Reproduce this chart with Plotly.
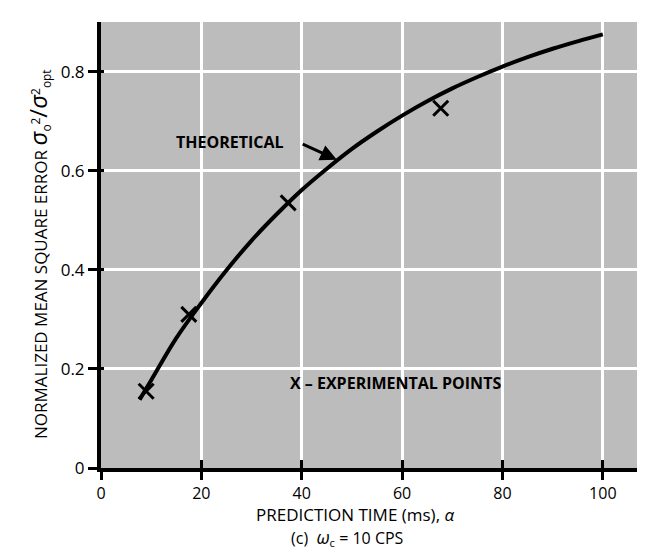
import plotly.graph_objects as go

# Theoretical curve
theory_x = [7.7, 10, 15, 20, 25, 30, 35, 40, 45, 50, 55, 60, 65, 70, 75, 80, 85, 90, 95, 100]
theory_y = [0.138, 0.177, 0.262, 0.333, 0.399, 0.459, 0.512, 0.561, 0.604, 0.644, 0.679,
            0.711, 0.740, 0.766, 0.789, 0.810, 0.829, 0.846, 0.861, 0.875]

# Experimental points
exp_x = [9, 17.5, 37.3, 67.7]
exp_y = [0.155, 0.31, 0.535, 0.726]

x_ticks = [0, 20, 40, 60, 80, 100]
x_tick_labels = ["0", "20", "40", "60", "80", "100"]
y_ticks = [0, 0.2, 0.4, 0.6, 0.8]
y_tick_labels = ["0", "0.2", "0.4", "0.6", "0.8"]

FONT = "Open Sans"
BG = "#bcbcbc"

fig = go.Figure()
fig.add_trace(go.Scatter(x=theory_x, y=theory_y, mode="lines",
                         line=dict(color="black", width=4, shape="spline"),
                         hoverinfo="skip", showlegend=False))
fig.add_trace(go.Scatter(x=exp_x, y=exp_y, mode="markers",
                         marker=dict(symbol="x-thin", size=15,
                                     line=dict(color="black", width=3)),
                         hoverinfo="skip", showlegend=False))
# invisible trace to carry the overlay axes (inner half of the crossing ticks)
fig.add_trace(go.Scatter(x=[None], y=[None], xaxis="x2", yaxis="y2",
                         showlegend=False, hoverinfo="skip"))

fig.update_layout(
    width=645, height=552,
    margin=dict(l=93, r=0, t=14, b=92),
    paper_bgcolor="white", plot_bgcolor=BG,
    font=dict(family=FONT, color="black", size=16),
    xaxis=dict(range=[0, 110], tickvals=x_ticks, ticktext=x_tick_labels,
               showgrid=True, gridcolor="white", gridwidth=3,
               showline=True, linecolor="black", linewidth=4,
               ticks="outside", ticklen=8, tickwidth=3, tickcolor="black",
               zeroline=False, tickfont=dict(size=16)),
    yaxis=dict(range=[0, 0.9], tickvals=y_ticks, ticktext=y_tick_labels,
               showgrid=True, gridcolor="white", gridwidth=3,
               showline=True, linecolor="black", linewidth=4,
               ticks="outside", ticklen=9, tickwidth=3, tickcolor="black",
               zeroline=False, tickfont=dict(size=17)),
    xaxis2=dict(overlaying="x", matches="x", anchor="y2", range=[0, 110],
                tickvals=x_ticks, ticks="inside", ticklen=8, tickwidth=3,
                tickcolor="black", showticklabels=False, showgrid=False,
                showline=False, zeroline=False),
    yaxis2=dict(overlaying="y", matches="y", anchor="x2", range=[0, 0.9],
                tickvals=y_ticks, ticks="inside", ticklen=3, tickwidth=3,
                tickcolor="black", showticklabels=False, showgrid=False,
                showline=False, zeroline=False),
)

SIG = "<span style='font-size:24px'><i>σ</i></span>"
ytitle = ("NORMALIZED MEAN SQUARE ERROR " + SIG + "<sub>o</sub><sup>2</sup>"
          "<span style='font-size:24px'>/</span>" + SIG + "<sup>2</sup><sub>opt</sub>")

annotations = [
    dict(text=ytitle, xref="paper", yref="paper", x=-0.114, y=0.48, textangle=-90,
         showarrow=False, xanchor="center", yanchor="middle", font=dict(size=17)),
    dict(text="PREDICTION TIME (ms), <i>α</i>", xref="x", yref="paper", x=50.7, y=-0.104,
         showarrow=False, xanchor="center", yanchor="middle", font=dict(size=17)),
    dict(text="(c)  <span style='font-size:18px'><i>ω</i></span><sub>c</sub> = 10 CPS",
         xref="x", yref="paper", x=49.2, y=-0.156,
         showarrow=False, xanchor="center", yanchor="middle", font=dict(size=16)),
    dict(text="<b>THEORETICAL</b>", xref="x", yref="y", x=25.7, y=0.657,
         showarrow=False, xanchor="center", yanchor="middle", font=dict(size=16)),
    dict(text="", xref="x", yref="y", x=47.0, y=0.622, ax=39.9, ay=0.655,
         axref="x", ayref="y", showarrow=True, arrowhead=2, arrowsize=1.1,
         arrowwidth=3, arrowcolor="black"),
    dict(text="<b>X – EXPERIMENTAL POINTS</b>", xref="x", yref="y", x=58.6, y=0.171,
         showarrow=False, xanchor="center", yanchor="middle", font=dict(size=16)),
]
fig.update_layout(annotations=annotations)

fig.write_html("out.html")
